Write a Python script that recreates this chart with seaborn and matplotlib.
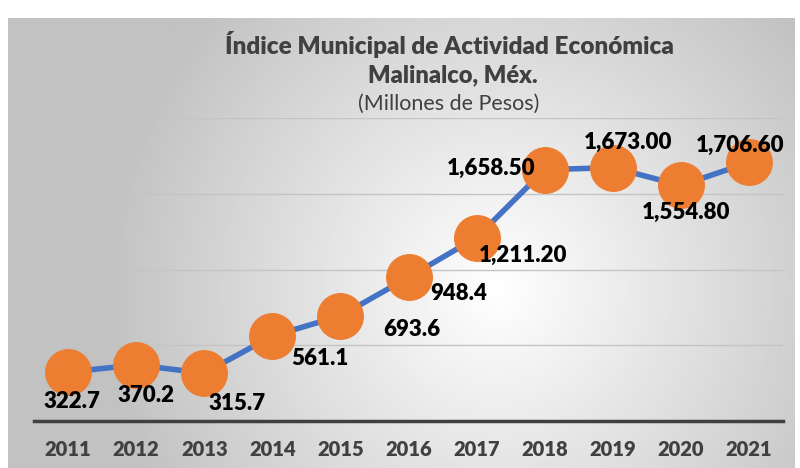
import numpy as np
import pandas as pd
import matplotlib
matplotlib.use('Agg')
import matplotlib.pyplot as plt
import seaborn as sns

# Datos del índice (millones de pesos)
years = ['2011', '2012', '2013', '2014', '2015', '2016', '2017', '2018', '2019', '2020', '2021']
values = [322.7, 370.2, 315.7, 561.1, 693.6, 948.4, 1211.2, 1658.5, 1673.0, 1554.8, 1706.6]
labels = ['322.7', '370.2', '315.7', '561.1', '693.6', '948.4', '1,211.20',
          '1,658.50', '1,673.00', '1,554.80', '1,706.60']

# desplazamiento de cada etiqueta (px) respecto al marcador
label_offsets = [(4, -29), (10, -31), (33, -30), (48, -23), (71, -14), (50, -16),
                 (46, -18), (-54, 1), (15, 25), (5, -27), (-9, 17)]

colors = {'line': '#4472C4', 'marker': '#ED7D31', 'text': '#404040', 'grid': '#C4C4C4'}

sns.set_style('white')
plt.rcParams['font.family'] = ['Lato', 'DejaVu Sans']

df = pd.DataFrame({'year': years, 'value': values})

fig = plt.figure(figsize=(8, 4.68), dpi=100)
fig.patch.set_facecolor('white')

# Fondo degradado del área del gráfico
bg = fig.add_axes([8 / 800, 0, 787 / 800, 450 / 468], zorder=0)
h, w = 200, 340
yy, xx = np.mgrid[0:h, 0:w]
r = np.sqrt(((xx - w * 0.62) / (w * 0.5)) ** 2 + ((yy - h * 0.6) / (h * 0.9)) ** 2)
shade = np.clip(1.0 - 0.24 * r, 0.76, 1.0)
bg.imshow(shade, cmap='gray', vmin=0, vmax=1, aspect='auto', extent=[0, 1, 0, 1])
bg.axis('off')

ax = fig.add_axes([34 / 800, 47 / 468, 749 / 800, 303 / 468], zorder=1)
ax.patch.set_alpha(0)

sns.lineplot(data=df, x='year', y='value', ax=ax, color=colors['line'], linewidth=4,
             marker='o', markersize=33, markerfacecolor=colors['marker'],
             markeredgecolor=colors['marker'], sort=False)

for i, (lab, (dx, dy)) in enumerate(zip(labels, label_offsets)):
    ax.annotate(lab, (i, values[i]), xytext=(dx * 0.72, dy * 0.72), textcoords='offset points',
                ha='center', va='center', fontsize=16, fontweight='heavy', color='black', zorder=5)

ax.set_xlim(-0.5, len(years) - 0.5)
ax.set_ylim(0, 2000)
ax.set_yticks([500, 1000, 1500, 2000])
ax.yaxis.grid(True, color=colors['grid'], linewidth=1)
ax.set_axisbelow(True)
ax.tick_params(axis='y', left=False, labelleft=False)
ax.tick_params(axis='x', bottom=False, pad=10, labelsize=14.5, labelcolor=colors['text'])
for t in ax.get_xticklabels():
    t.set_fontweight('heavy')
for s in ['top', 'right', 'left']:
    ax.spines[s].set_visible(False)
ax.spines['bottom'].set_color(colors['text'])
ax.spines['bottom'].set_linewidth(2.5)
ax.set_xlabel('')
ax.set_ylabel('')

fig.text(449 / 800, 1 - 45 / 468, 'Índice Municipal de Actividad Económica', ha='center', va='center',
         fontsize=17.5, fontweight='heavy', color=colors['text'])
fig.text(453 / 800, 1 - 75 / 468, 'Malinalco, Méx.', ha='center', va='center',
         fontsize=17, fontweight='heavy', color=colors['text'])
fig.text(449 / 800, 1 - 104 / 468, '(Millones de Pesos)', ha='center', va='center',
         fontsize=15.5, color=colors['text'])

plt.savefig('out.png', dpi=100)
plt.close()
